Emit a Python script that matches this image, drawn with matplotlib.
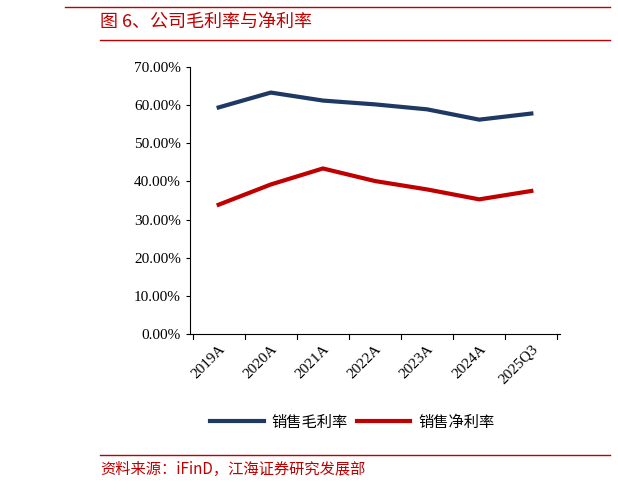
import matplotlib.pyplot as plt
from matplotlib.lines import Line2D

years = ['2019A', '2020A', '2021A', '2022A', '2023A', '2024A', '2025Q3']
gross_margin = [59.4, 63.3, 61.2, 60.2, 58.9, 56.2, 57.8]
net_margin = [33.9, 39.2, 43.4, 40.1, 37.9, 35.3, 37.5]

cjk = ['Noto Sans CJK SC', 'DejaVu Sans']
red = '#c00000'

fig = plt.figure(figsize=(6.18, 4.91), dpi=100)
ax = fig.add_axes([190 / 618, 1 - 334 / 491, 370 / 618, 267 / 491])

x = range(len(years))
ax.plot(x, gross_margin, color='#1f3864', lw=3)
ax.plot(x, net_margin, color=red, lw=3)

ax.set_xlim(-0.55, len(years) - 0.45)
ax.set_ylim(0, 70)
ax.set_yticks(range(0, 71, 10))
ax.set_yticklabels([f'{v:.2f}%' for v in range(0, 71, 10)], family='Liberation Serif', fontsize=11)
ax.set_xticks(list(x))
ax.set_xticklabels(years, rotation=45, ha='right', rotation_mode='anchor', family='Liberation Serif', fontsize=11)
for s in ['top', 'right']:
    ax.spines[s].set_visible(False)
ax.tick_params(axis='x', length=0, pad=6)
ax.tick_params(axis='y', direction='out', length=3)
# category boundary ticks on x axis
for b in [i - 0.5 for i in range(len(years) + 1)]:
    ax.plot([b, b], [0, -1.2], color='black', lw=0.8, clip_on=False)

handles = [Line2D([], [], color='#1f3864', lw=3), Line2D([], [], color=red, lw=3)]
fig.legend(handles, ['销售毛利率', '销售净利率'], loc='center', bbox_to_anchor=(0.57, 1 - 422 / 491),
           ncol=2, frameon=False, prop={'family': cjk, 'size': 11}, handlelength=3.5, columnspacing=0.6, handletextpad=0.5)

fig.text(100 / 618, 1 - 22 / 491, '图 6、公司毛利率与净利率', color=red, fontsize=13, family=cjk, va='center')
fig.add_artist(Line2D([100 / 618, 610 / 618], [1 - 40 / 491] * 2, color=red, lw=1))
fig.add_artist(Line2D([65 / 618, 610 / 618], [1 - 7 / 491] * 2, color=red, lw=1))
fig.add_artist(Line2D([100 / 618, 610 / 618], [1 - 455 / 491] * 2, color=red, lw=1))
fig.text(100 / 618, 1 - 469 / 491, '资料来源：iFinD，江海证券研究发展部', color=red, fontsize=11, family=cjk, va='center')

fig.savefig('out.png', dpi=100)
